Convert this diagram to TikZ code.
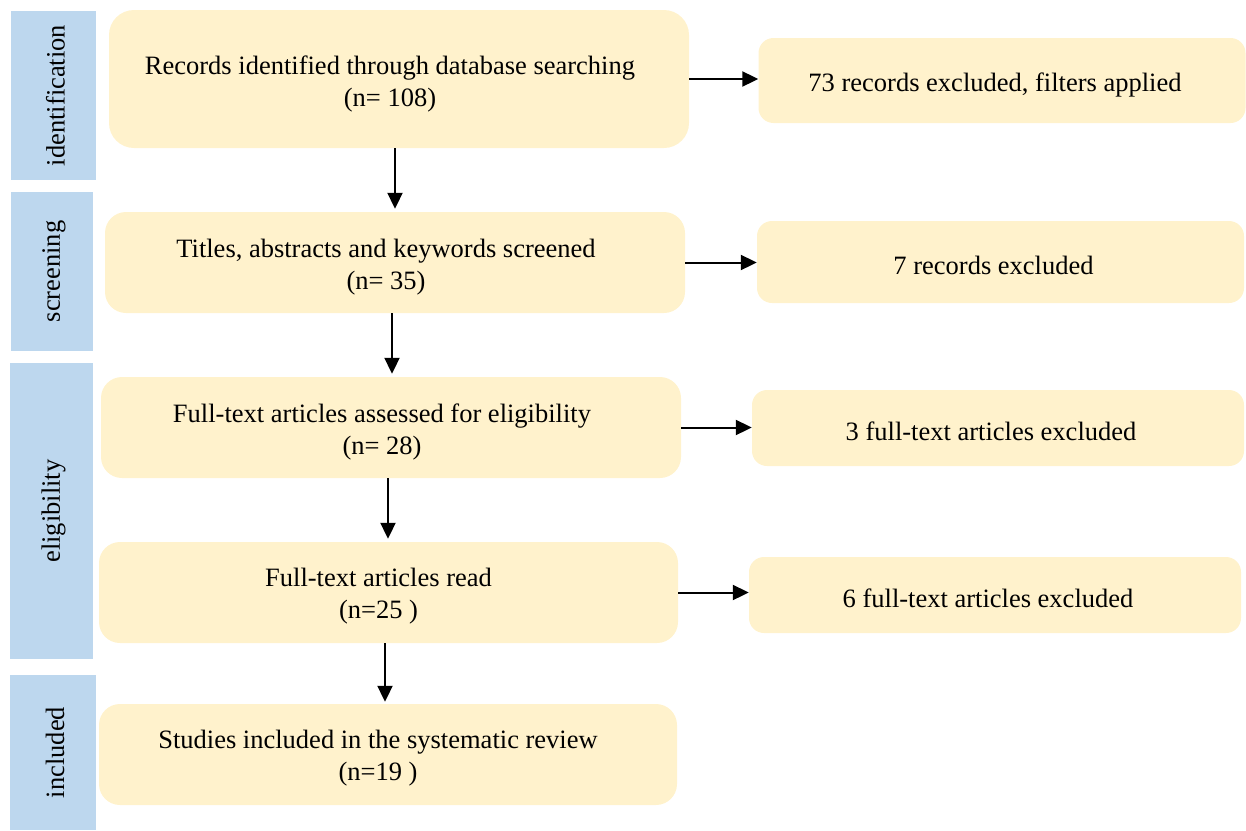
\documentclass[tikz,border=0pt]{standalone}
\usepackage{fontspec}
\setmainfont{Liberation Serif}
\usetikzlibrary{arrows.meta}
\definecolor{boxyellow}{HTML}{FFF2CC}
\definecolor{barblue}{HTML}{BDD7EE}
\tikzset{
  ybox/.style={fill=boxyellow, draw=none, inner sep=0pt, rounded corners=#1},
  ybox/.default=20pt,
  bbar/.style={fill=barblue, draw=none, inner sep=0pt},
  txt/.style={align=center, inner sep=0pt, font=\fontsize{26.5}{32}\selectfont},
  side/.style={rotate=90, inner sep=0pt, font=\fontsize{26.5}{32}\selectfont},
  arr/.style={line width=2pt, -{Triangle[length=16pt,width=15pt]}}
}
\begin{document}
\begin{tikzpicture}[x=1pt,y=-1pt]
\useasboundingbox (0,0) rectangle (1246,830);
% side bars
\node[bbar, minimum width=85, minimum height=169] (s1) at (53.5,95.5) {};
\node[bbar, minimum width=82, minimum height=159] (s2) at (52,271.5) {};
\node[bbar, minimum width=83, minimum height=296] (s3) at (51.5,511) {};
\node[bbar, minimum width=86, minimum height=155] (s4) at (53,752.5) {};
\node[side] (l1) at ([xshift=2pt]s1.center) {identification};
\node[side] (l2) at ([xshift=2pt]s2.center) {screening};
\node[side] (l3) at ([xshift=2pt]s3.center) {eligibility};
\node[side] (l4) at ([xshift=2pt]s4.center) {included};
% main boxes
\node[ybox=25pt, minimum width=580, minimum height=138] (b1) at (399,79) {};
\node[ybox=21pt, minimum width=580, minimum height=101] (b3) at (395,262.5) {};
\node[ybox=21pt, minimum width=580, minimum height=101] (b5) at (391,427.5) {};
\node[ybox=21pt, minimum width=579, minimum height=101] (b7) at (388.5,592.5) {};
\node[ybox=21pt, minimum width=578, minimum height=101] (b9) at (388,754.5) {};
% exclusion boxes
\node[ybox=15pt, minimum width=487, minimum height=85] (b2) at (1002,80.5) {};
\node[ybox=15pt, minimum width=487, minimum height=82] (b4) at (1000.5,262) {};
\node[ybox=15pt, minimum width=492, minimum height=76] (b6) at (998,428) {};
\node[ybox=15pt, minimum width=492, minimum height=76] (b8) at (995,595) {};
% texts
\node[txt] (t1) at ([xshift=-9pt,yshift=-5pt]b1.center) {Records identified through database searching\\(n= 108)};
\node[txt] (t3) at ([xshift=-9pt,yshift=-5pt]b3.center) {Titles, abstracts and keywords screened\\(n= 35)};
\node[txt] (t5) at ([xshift=-9pt,yshift=-4pt]b5.center) {Full-text articles assessed for eligibility\\(n= 28)};
\node[txt] (t7) at ([xshift=-10pt,yshift=-4pt]b7.center) {Full-text articles read\\(n=25 )};
\node[txt] (t9) at ([xshift=-10pt,yshift=-4pt]b9.center) {Studies included in the systematic review\\(n=19 )};
\node[txt] (t2) at ([xshift=-7pt,yshift=-4pt]b2.center) {73 records excluded, filters applied};
\node[txt] (t4) at ([xshift=-7pt,yshift=-3pt]b4.center) {7 records excluded};
\node[txt] (t6) at ([xshift=-7pt,yshift=-3pt]b6.center) {3 full-text articles excluded};
\node[txt] (t8) at ([xshift=-7pt,yshift=-3pt]b8.center) {6 full-text articles excluded};
% vertical arrows
\draw[arr, shorten >=3pt] ([xshift=-4pt]b1.south) -- ([xshift=-4pt]b1.south |- b3.north);
\draw[arr, shorten >=3pt] ([xshift=-3pt]b3.south) -- ([xshift=-3pt]b3.south |- b5.north);
\draw[arr, shorten >=3pt] ([xshift=-3pt]b5.south) -- ([xshift=-3pt]b5.south |- b7.north);
\draw[arr, shorten >=2pt] ([xshift=-3.5pt]b7.south) -- ([xshift=-3.5pt]b7.south |- b9.north);
% horizontal arrows
\draw[arr] (b1.east) -- (b1.east -| b2.west);
\draw[arr] (b3.east) -- (b3.east -| b4.west);
\draw[arr] (b5.east) -- (b5.east -| b6.west);
\draw[arr] (b7.east) -- (b7.east -| b8.west);
\end{tikzpicture}
\end{document}
